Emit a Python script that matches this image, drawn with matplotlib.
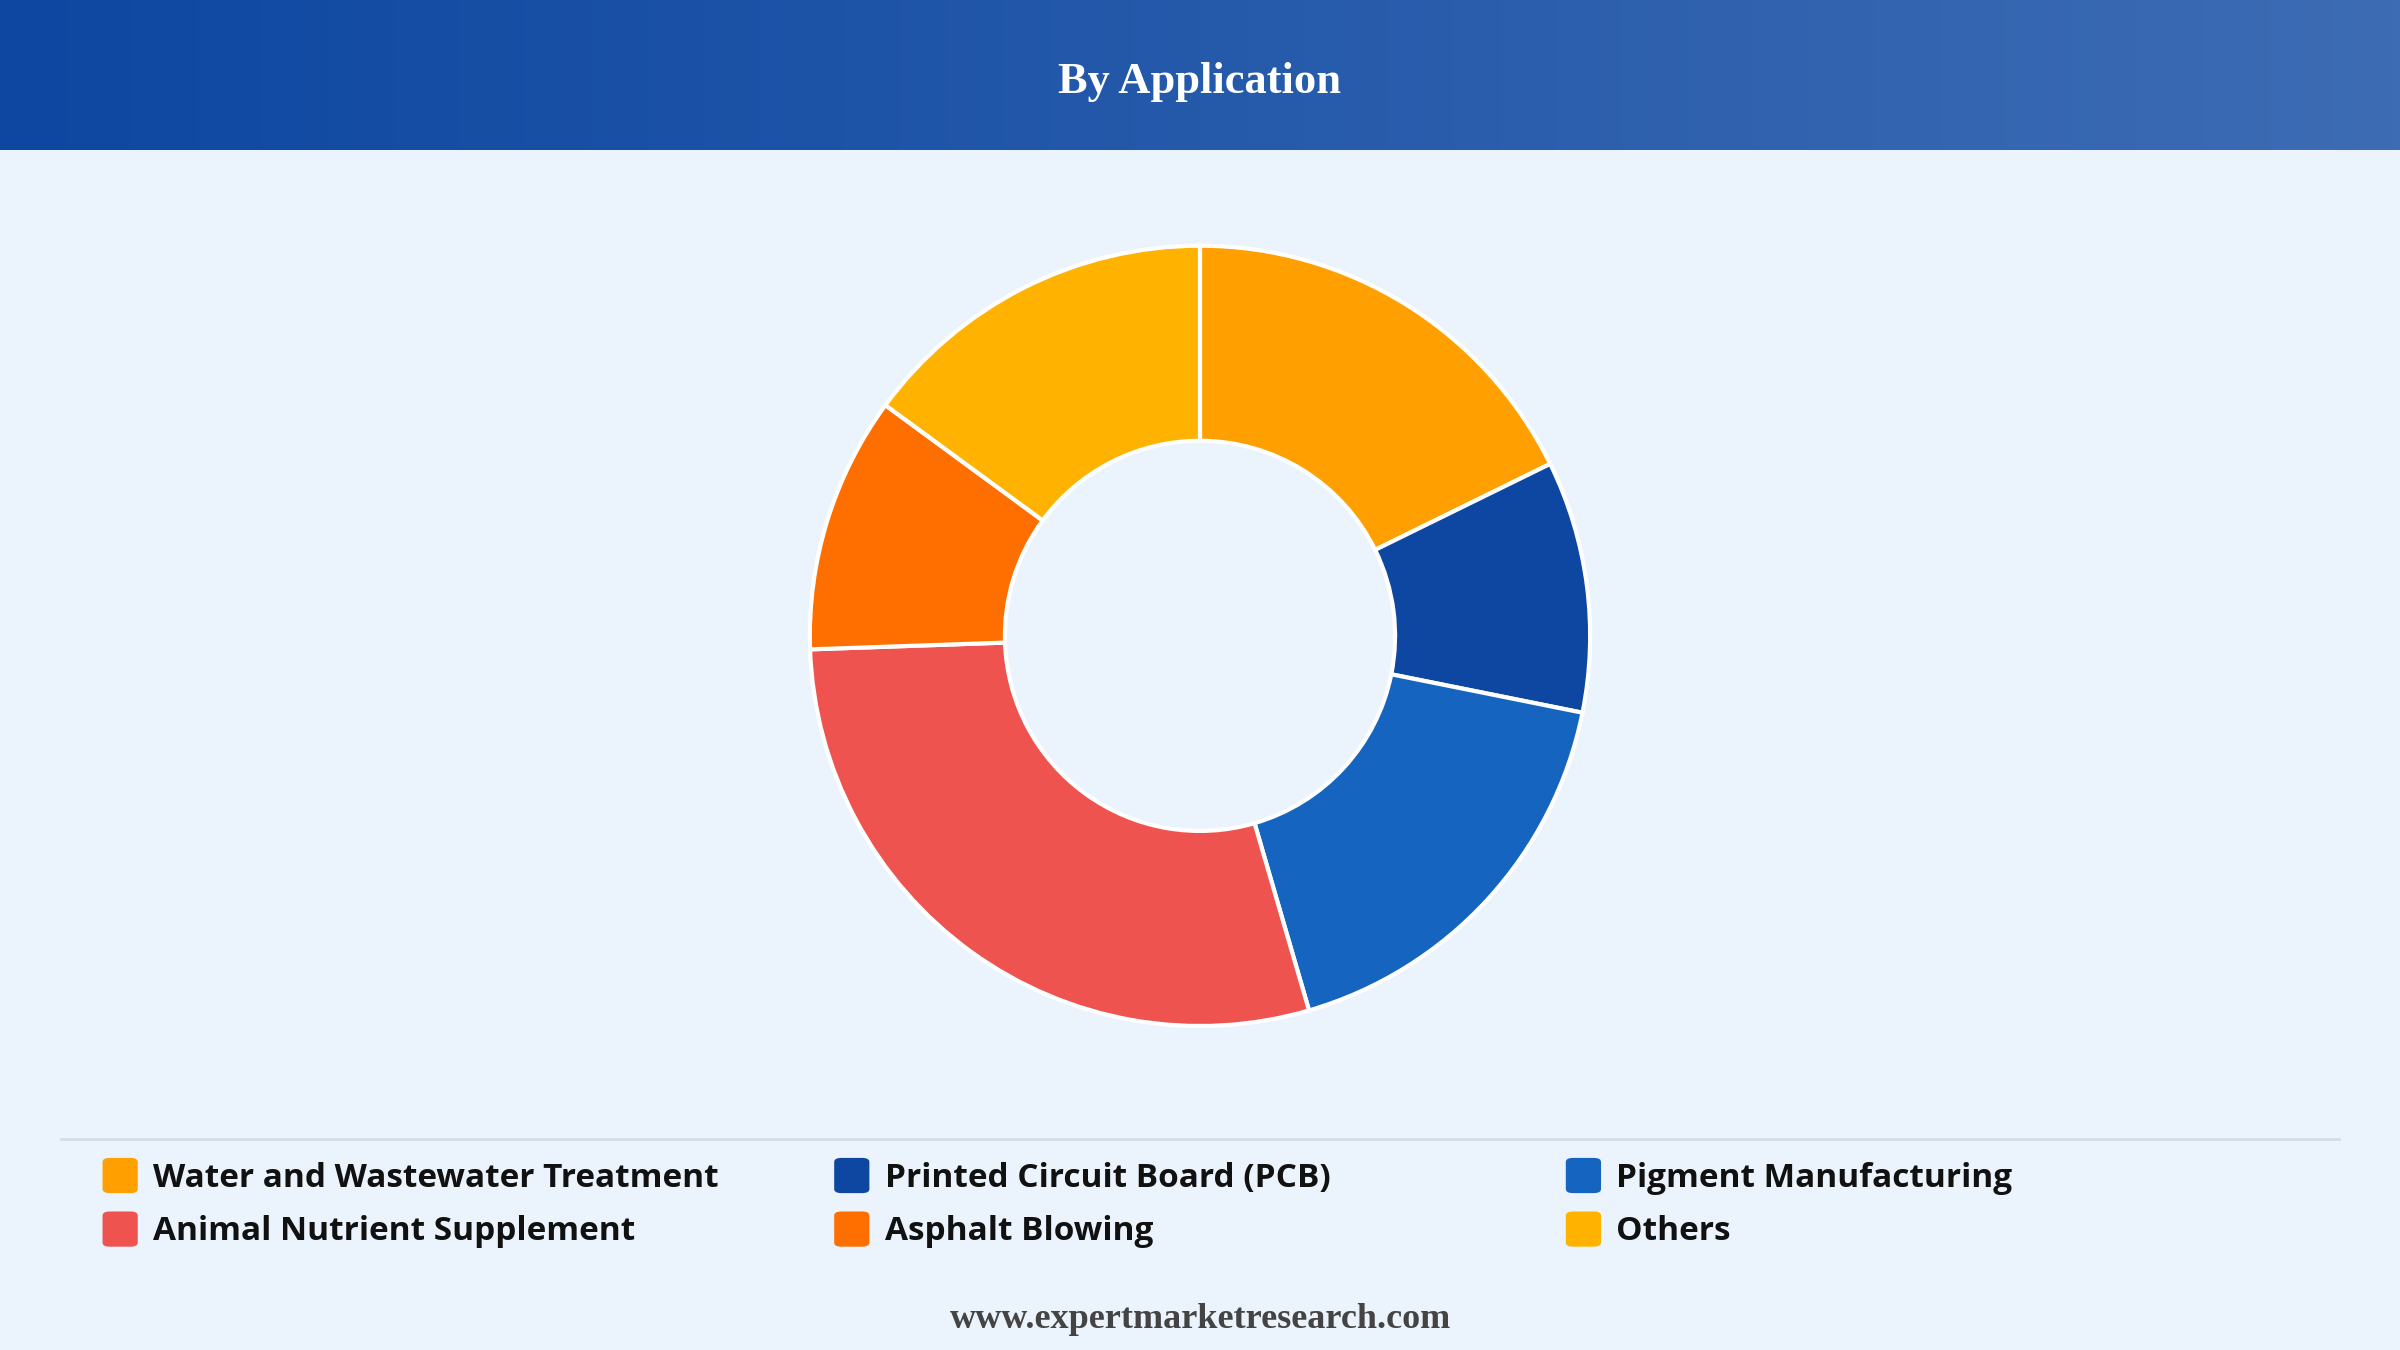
import numpy as np
import matplotlib.pyplot as plt
from matplotlib.patches import FancyBboxPatch
from matplotlib.colors import LinearSegmentedColormap

labels = ["Water and Wastewater Treatment", "Printed Circuit Board (PCB)", "Pigment Manufacturing",
          "Animal Nutrient Supplement", "Asphalt Blowing", "Others"]
values = [17.7, 10.4, 17.3, 28.9, 10.6, 14.9]
colors = ["#FFA000", "#0D47A1", "#1565C0", "#EF5350", "#FF6F00", "#FFB300"]

fig = plt.figure(figsize=(24, 13.5), dpi=100)
fig.patch.set_facecolor("#EBF3FC")

# header gradient
hdr = fig.add_axes([0, 1 - 98 / 882, 1, 98 / 882])
grad = np.linspace(0, 1, 256).reshape(1, -1)
cmap = LinearSegmentedColormap.from_list("h", ["#0D47A1", "#3D6CB4"])
hdr.imshow(grad, aspect="auto", cmap=cmap, extent=[0, 1, 0, 1])
hdr.axis("off")
hdr.text(0.5, 0.45, "By Application", ha="center", va="center", color="white",
         fontsize=32, fontweight="bold", family="Liberation Serif")

# donut
h = 0.578
w = h * 13.5 / 24
ax = fig.add_axes([0.5 - w / 2, 0.529 - h / 2, w, h])
ax.pie(values, colors=colors, startangle=90, counterclock=False,
       wedgeprops=dict(width=0.5, edgecolor="white", linewidth=3))
ax.set_xlim(-1, 1)
ax.set_ylim(-1, 1)
ax.set_aspect("equal")
ax.axis("off")

# separator line
fig.add_artist(plt.Line2D([40 / 1568, 1528 / 1568], [1 - 744 / 882] * 2, color="#D5DCE6", lw=2))

# legend
for i, (lab, col) in enumerate(zip(labels, colors)):
    r, c = divmod(i, 3)
    x = 67 / 1568 + c * 478 / 1568
    y = 1 - (768 + r * 35) / 882
    sq = 23 / 1568
    sqh = sq * 24 / 13.5
    fig.add_artist(FancyBboxPatch((x, y - sqh / 2), sq, sqh, boxstyle="round,pad=0,rounding_size=0.003",
                                  transform=fig.transFigure, facecolor=col, edgecolor="none"))
    fig.text(x + 33 / 1568, y - 0.002, lab, ha="left", va="center", fontsize=24, fontweight="bold",
             family="Open Sans", color="#111111")

fig.text(0.5, 1 - 862 / 882, "www.expertmarketresearch.com", ha="center", va="center",
         fontsize=26, fontweight="bold", family="Liberation Serif", color="#444444")

fig.savefig("out.png", dpi=100, facecolor=fig.get_facecolor())
